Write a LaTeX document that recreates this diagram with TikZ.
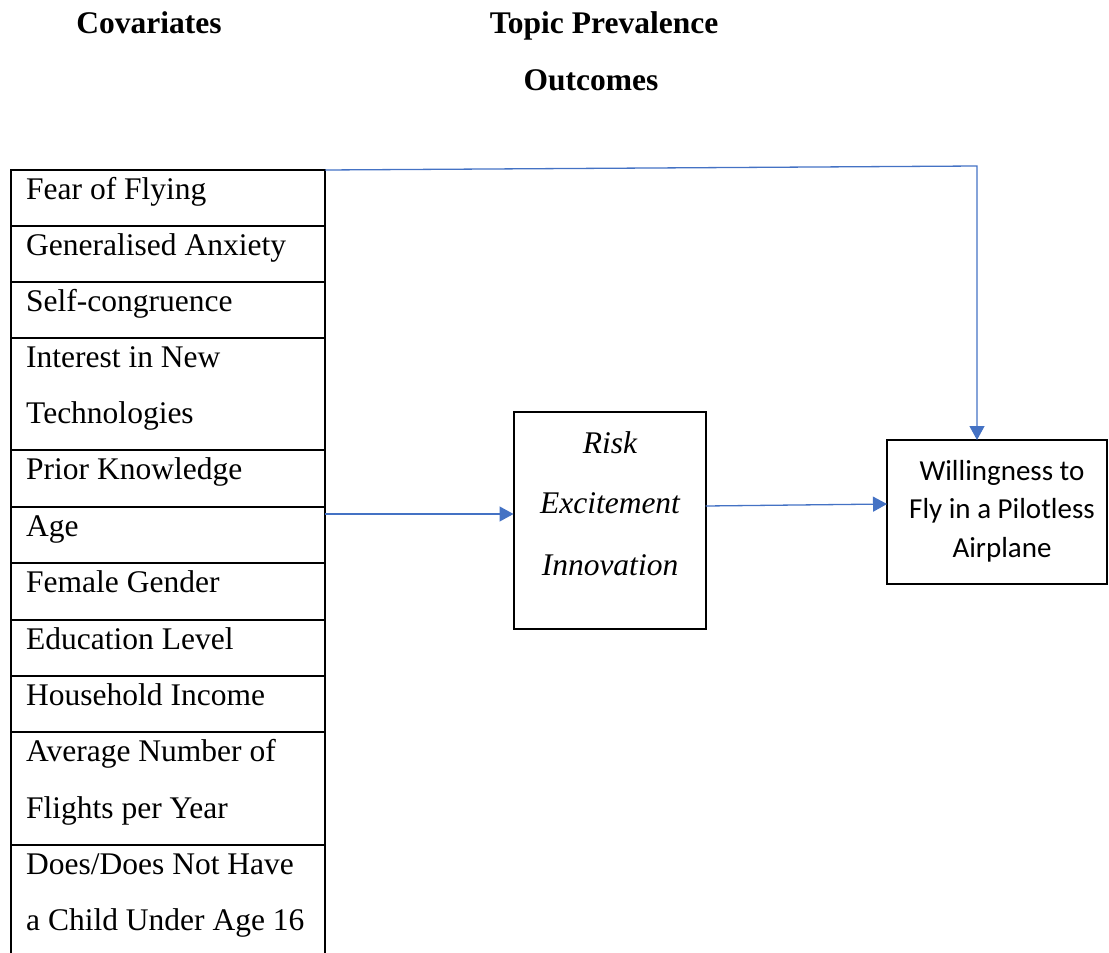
\documentclass[tikz,border=0pt]{standalone}
\usepackage{fontspec}
\setmainfont{Liberation Serif}
\newfontfamily\calibri{Carlito}
\usetikzlibrary{arrows.meta}
\definecolor{arrowblue}{HTML}{4472C4}
\begin{document}
\begin{tikzpicture}[x=1pt,y=-1pt,
  cell/.style={draw, line width=1.6pt, minimum width=314pt, inner sep=0pt, outer sep=0pt, anchor=north west},
  celltext/.style={anchor=base west, inner sep=0pt, font=\fontsize{31.5}{38}\selectfont},
  boxtext/.style={anchor=base, inner sep=0pt, font=\fontsize{31.5}{38}\selectfont\itshape},
  outtext/.style={anchor=base, inner sep=0pt, font=\calibri\fontsize{29}{38}\selectfont},
  head/.style={anchor=base, inner sep=0pt, font=\fontsize{31.5}{38}\selectfont\bfseries},
  bigbox/.style={draw, line width=2pt, inner sep=0pt, outer sep=0pt},
  conn/.style={draw=arrowblue, line width=1.3pt, -{Triangle[length=14pt,width=15pt]}}
]
\useasboundingbox (0,0) rectangle (1109,953);

% headers
\node[head] (h1) at (149,34) {Covariates};
\node[head] (h2) at (604,34) {Topic Prevalence};
\node[head] (h3) at (591,90) {Outcomes};

% table cells
\node[cell, minimum height=56pt] (c1) at (11,170) {};
\node[cell, minimum height=56pt] (c2) at (11,226) {};
\node[cell, minimum height=56pt] (c3) at (11,282) {};
\node[cell, minimum height=112pt] (c4) at (11,338) {};
\node[cell, minimum height=57pt] (c5) at (11,450) {};
\node[cell, minimum height=56pt] (c6) at (11,507) {};
\node[cell, minimum height=57pt] (c7) at (11,563) {};
\node[cell, minimum height=56pt] (c8) at (11,620) {};
\node[cell, minimum height=56pt] (c9) at (11,676) {};
\node[cell, minimum height=113pt] (c10) at (11,732) {};
\node[inner sep=0pt, outer sep=0pt, minimum width=314pt, minimum height=120pt, anchor=north west] (c11) at (11,845) {};
\draw[line width=1.6pt] (c11.north west) -- (c11.south west);
\draw[line width=1.6pt] (c11.north east) -- (c11.south east);

% table texts
\node[celltext] (t1) at (26,199) {Fear of Flying};
\node[celltext] (t2) at (26,255) {Generalised Anxiety};
\node[celltext] (t3) at (26,311) {Self-congruence};
\node[celltext] (t4a) at (26,367) {Interest in New};
\node[celltext] (t4b) at (26,423) {Technologies};
\node[celltext] (t5) at (26,479) {Prior Knowledge};
\node[celltext] (t6) at (26,536) {Age};
\node[celltext] (t7) at (26,592) {Female Gender};
\node[celltext] (t8) at (26,649) {Education Level};
\node[celltext] (t9) at (26,705) {Household Income};
\node[celltext] (t10a) at (26,761) {Average Number of};
\node[celltext] (t10b) at (26,818) {Flights per Year};
\node[celltext] (t11a) at (26,874) {Does/Does Not Have};
\node[celltext] (t11b) at (26,930) {a Child Under Age 16};

% middle box
\node[bigbox, minimum width=192pt, minimum height=217pt] (mid) at (609.5,520.5) {};
\node[boxtext] (m1) at (610,453) {Risk};
\node[boxtext] (m2) at (610,513) {Excitement};
\node[boxtext] (m3) at (610,575) {Innovation};

% outcome box
\node[bigbox, minimum width=220pt, minimum height=144pt] (out) at (997,512) {};
\node[outtext] (o1) at (1002,480) {Willingness to};
\node[outtext] (o2) at (1002,518) {Fly in a Pilotless};
\node[outtext] (o3) at (1002,557) {Airplane};

% connectors
\coordinate (tr) at (977,166);
\draw[conn] (c1.north east) -- (tr) -- (tr |- out.north);
\draw[conn] ([yshift=-7pt]c6.north east) -- ([yshift=-7pt]c6.north east -| mid.west);
\draw[conn] ([yshift=14.5pt]mid.east) -- ([yshift=8pt]out.west);
\end{tikzpicture}
\end{document}
